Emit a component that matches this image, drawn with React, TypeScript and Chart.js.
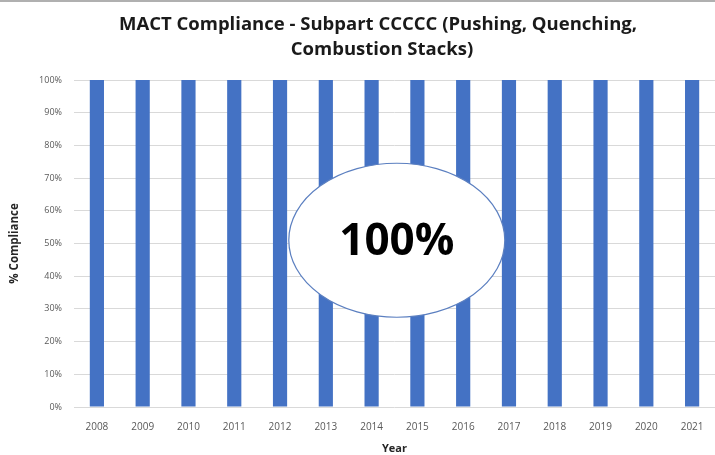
import React, { useEffect, useRef } from "react";
import { Chart, registerables } from "chart.js";

Chart.register(...registerables);

const years = ["2008","2009","2010","2011","2012","2013","2014","2015","2016","2017","2018","2019","2020","2021"];
const compliance = [100,100,100,100,100,100,100,100,100,100,100,100,100,100];
const titleLines = ["MACT Compliance - Subpart CCCCC (Pushing, Quenching,", "Combustion Stacks)"];
const calloutText = "100%";
const calloutIndex = 6.55;
const calloutValue = 51;

const titlePlugin = {
  id: "customTitle",
  afterDraw(chart: any) {
    const ctx = chart.ctx;
    ctx.save();
    ctx.fillStyle = "#1a1a1a";
    ctx.font = "bold 18.5px 'Open Sans', Calibri, sans-serif";
    ctx.textAlign = "center";
    ctx.textBaseline = "middle";
    ctx.fillText(titleLines[0], 378, 25);
    ctx.fillText(titleLines[1], 382, 50);
    ctx.restore();
  },
};

const calloutPlugin = {
  id: "callout",
  afterDatasetsDraw(chart: any) {
    const ctx = chart.ctx;
    const x = chart.scales.x.getPixelForValue(calloutIndex);
    const y = chart.scales.y.getPixelForValue(calloutValue);
    ctx.save();
    ctx.beginPath();
    ctx.ellipse(x, y, 108, 77, 0, 0, Math.PI * 2);
    ctx.fillStyle = "#ffffff";
    ctx.fill();
    ctx.lineWidth = 1.2;
    ctx.strokeStyle = "#5b7fc0";
    ctx.stroke();
    ctx.fillStyle = "#000000";
    ctx.font = "bold 44px 'Open Sans', Calibri, sans-serif";
    ctx.textAlign = "center";
    ctx.textBaseline = "middle";
    ctx.fillText(calloutText, x, y + 2);
    ctx.restore();
  },
};

const borderPlugin = {
  id: "frame",
  afterDraw(chart: any) {
    const ctx = chart.ctx;
    ctx.save();
    ctx.strokeStyle = "#b0b0b0";
    ctx.lineWidth = 2;
    ctx.beginPath();
    ctx.moveTo(0, 1);
    ctx.lineTo(chart.width, 1);
    ctx.stroke();
    ctx.restore();
  },
};

export default function App() {
  const ref = useRef<HTMLCanvasElement>(null);
  useEffect(() => {
    document.body.style.margin = "0";
    const chart = new Chart(ref.current!, {
      type: "bar",
      data: {
        labels: years,
        datasets: [
          {
            data: compliance,
            backgroundColor: "#4472C4",
            categoryPercentage: 1,
            barPercentage: 0.31,
          },
        ],
      },
      options: {
        animation: false,
        responsive: false,
        layout: { padding: { top: 80, right: 0, left: 0, bottom: 0 } },
        plugins: { legend: { display: false }, tooltip: { enabled: false }, title: { display: false } },
        scales: {
          x: {
            grid: { display: false },
            border: { display: false },
            ticks: { color: "#595959", font: { size: 10, family: "'Open Sans', Calibri, sans-serif" }, padding: 6 },
            title: { display: true, text: "Year", color: "#262626", font: { size: 11, weight: "bold", family: "'Open Sans', Calibri, sans-serif" }, padding: { top: 6, bottom: 0 } },
            afterFit: (s: any) => { s.height = 48; },
          },
          y: {
            min: 0,
            max: 100,
            ticks: { stepSize: 10, callback: (v: any) => v + "%", color: "#595959", font: { size: 9, family: "'Open Sans', Calibri, sans-serif" }, padding: 12 },
            grid: { color: "#d9d9d9", drawTicks: false },
            border: { display: false },
            title: { display: true, text: "% Compliance", color: "#262626", font: { size: 11.5, weight: "bold", family: "'Open Sans', Calibri, sans-serif" }, padding: { top: 8, bottom: 0 } },
            afterFit: (s: any) => { s.width = 74; },
          },
        },
      },
      plugins: [titlePlugin, calloutPlugin, borderPlugin],
    });
    return () => chart.destroy();
  }, []);
  return (
    <div style={{ width: 715, height: 455 }}>
      <canvas ref={ref} width={715} height={455} />
    </div>
  );
}
